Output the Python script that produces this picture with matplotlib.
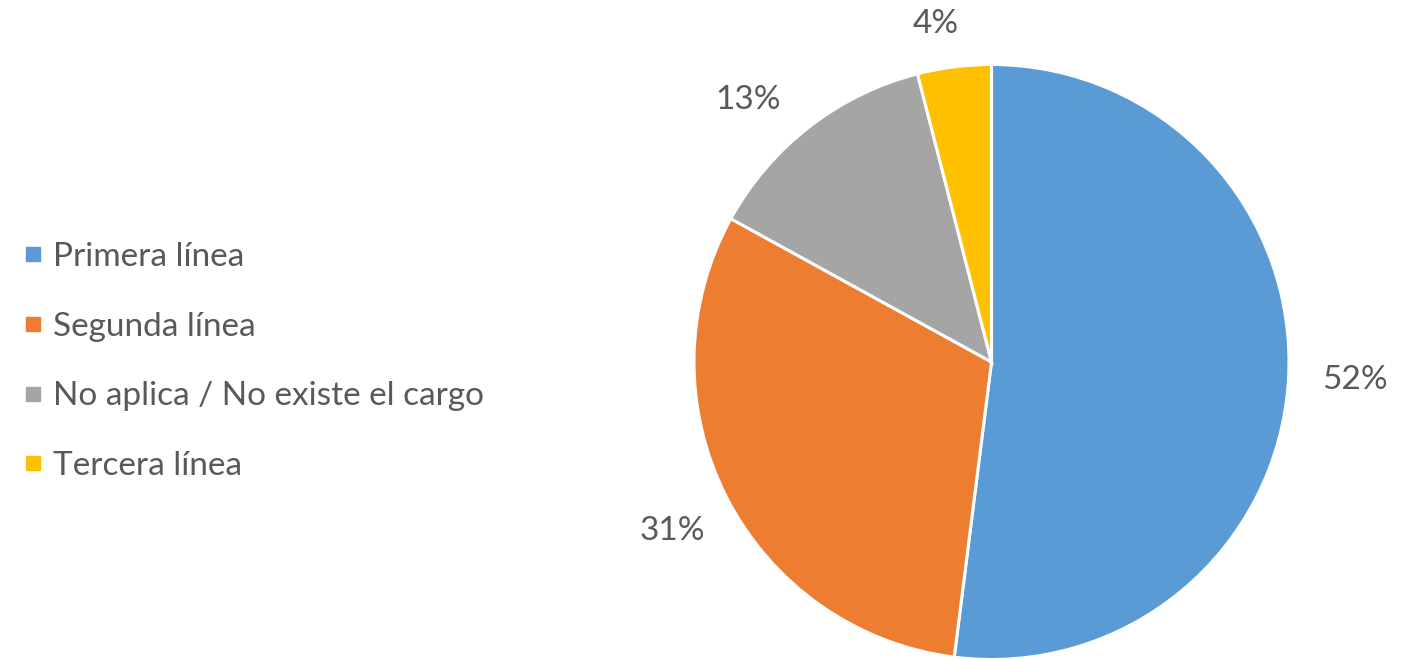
import matplotlib
matplotlib.use("Agg")
import numpy as np
import matplotlib.pyplot as plt
from matplotlib.lines import Line2D

categories = ["Primera línea", "Segunda línea", "No aplica / No existe el cargo", "Tercera línea"]
values = [52, 31, 13, 4]
colors = ["#5B9BD5", "#ED7D31", "#A5A5A5", "#FFC000"]
text_color = "#595959"

# placement of the percentage labels (radial distance, angular nudge in degrees)
label_dist = [1.224, 1.215, 1.202, 1.150]
label_nudge = [0.8, 0.9, 5.0, 2.1]

plt.rcParams["font.family"] = ["Lato", "DejaVu Sans"]

W, H = 1414, 659
fig = plt.figure(figsize=(W / 100, H / 100), dpi=100)
ax = fig.add_axes([0, 0, 1, 1])

# pie geometry in pixels
cx, cy, R = 991.5, 362.0, 297.5

wedges, _ = ax.pie(
    values,
    colors=colors,
    startangle=90,
    counterclock=False,
    radius=1.0,
    wedgeprops=dict(edgecolor="white", linewidth=2.2),
    frame=True,
)
for w, v, d, nudge in zip(wedges, values, label_dist, label_nudge):
    mid = np.deg2rad((w.theta1 + w.theta2) / 2 + nudge)
    ax.text(d * np.cos(mid), d * np.sin(mid), f"{v}%", ha="center", va="center",
            color=text_color, fontsize=24)

ax.set_xlim(-cx / R, (W - cx) / R)
ax.set_ylim(-(H - cy) / R, cy / R)
ax.set_aspect("auto")
ax.axis("off")

handles = [Line2D([0], [0], marker="s", linestyle="none", markersize=9.4,
                  markerfacecolor=c, markeredgecolor=c) for c in colors]
fig.legend(
    handles, categories,
    loc="center left",
    bbox_to_anchor=(0.0, 0.4514),
    frameon=False,
    fontsize=24,
    labelcolor=text_color,
    handlelength=0.6,
    handletextpad=0.28,
    labelspacing=1.19,
    borderaxespad=0.3,
)

fig.savefig("out.png", dpi=100, facecolor="white")
